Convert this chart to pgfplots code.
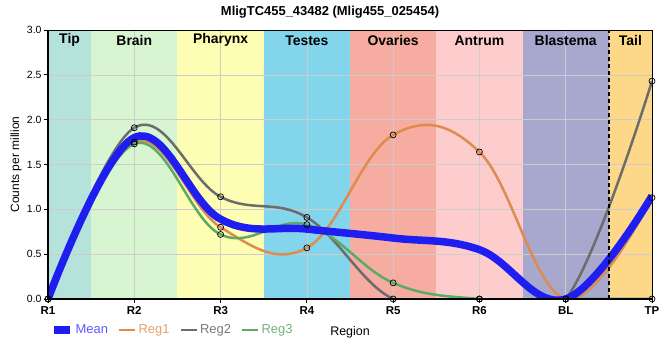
\documentclass[border=0pt]{standalone}
\usepackage{pgfplots}
\pgfplotsset{compat=1.18}
\usepackage{fontspec}
\setmainfont{Liberation Sans}
\definecolor{tipc}{RGB}{182,226,220}
\definecolor{brainc}{RGB}{214,245,208}
\definecolor{pharc}{RGB}{253,253,180}
\definecolor{testc}{RGB}{130,213,235}
\definecolor{ovac}{RGB}{246,172,160}
\definecolor{antc}{RGB}{253,204,204}
\definecolor{blasc}{RGB}{168,168,206}
\definecolor{tailc}{RGB}{253,216,136}
\definecolor{meanc}{RGB}{30,30,240}
\definecolor{regA}{RGB}{222,140,78}
\definecolor{regB}{RGB}{108,108,108}
\definecolor{regC}{RGB}{92,170,100}
\definecolor{meant}{RGB}{90,90,255}
\definecolor{regAt}{RGB}{232,160,110}
\definecolor{regBt}{RGB}{120,120,120}
\definecolor{regCt}{RGB}{110,180,120}
\begin{document}
\begin{tikzpicture}
\begin{axis}[
  at={(0,0)}, anchor=south west,
  scale only axis, width=604bp, height=269bp,
  set layers,
  xmin=0, xmax=7, ymin=0, ymax=3,
  xtick={0,1,2,3,4,5,6,7},
  xticklabels={R1,R2,R3,R4,R5,R6,BL,TP},
  xticklabel style={font=\fontsize{11.5}{13}\selectfont\bfseries, yshift=0bp},
  ytick={0,0.5,1,1.5,2,2.5,3},
  /pgf/number format/assume math mode=true,
  yticklabel style={font=\fontsize{10.5}{12}\selectfont, /pgf/number format/fixed, /pgf/number format/fixed zerofill, /pgf/number format/precision=1, xshift=1bp},
  tick align=outside, tick pos=left, major tick length=4bp,
  tick style={black, line width=0.8bp},
  grid=major, grid style={color=black!20, line width=0.6bp},
  axis line style={line width=0.8bp},
  clip mode=individual,
  every axis title shift=0pt,
  title={MligTC455\_43482 (Mlig455\_025454)},
  title style={font=\fontsize{13}{15}\selectfont\bfseries, inner sep=1bp, at={(axis description cs:0.467,1)}, anchor=base, yshift=14bp},
  ylabel={Counts per million},
  ylabel style={font=\fontsize{12}{14}\selectfont, inner sep=1bp, at={(axis description cs:-0.053,0.5)}, anchor=center},
  legend columns=-1,
  legend image code/.code={\draw[#1] (0bp,0bp) -- (16bp,0bp);},
  legend style={draw=none, fill=none, inner sep=0pt, at={(axis description cs:0.0033,-0.115)}, anchor=west,
    font=\fontsize{13}{15}\selectfont, nodes={inner xsep=2bp},
    /tikz/every even column/.append style={column sep=8bp}},
]
\addplot[fill=tipc, draw=none, on layer=axis background, forget plot] coordinates {(0,0) (0.5,0) (0.5,3) (0,3)} -- cycle;
\addplot[fill=brainc, draw=none, on layer=axis background, forget plot] coordinates {(0.5,0) (1.5,0) (1.5,3) (0.5,3)} -- cycle;
\addplot[fill=pharc, draw=none, on layer=axis background, forget plot] coordinates {(1.5,0) (2.5,0) (2.5,3) (1.5,3)} -- cycle;
\addplot[fill=testc, draw=none, on layer=axis background, forget plot] coordinates {(2.5,0) (3.5,0) (3.5,3) (2.5,3)} -- cycle;
\addplot[fill=ovac, draw=none, on layer=axis background, forget plot] coordinates {(3.5,0) (4.5,0) (4.5,3) (3.5,3)} -- cycle;
\addplot[fill=antc, draw=none, on layer=axis background, forget plot] coordinates {(4.5,0) (5.5,0) (5.5,3) (4.5,3)} -- cycle;
\addplot[fill=blasc, draw=none, on layer=axis background, forget plot] coordinates {(5.5,0) (6.5,0) (6.5,3) (5.5,3)} -- cycle;
\addplot[fill=tailc, draw=none, on layer=axis background, forget plot] coordinates {(6.5,0) (7,0) (7,3) (6.5,3)} -- cycle;

\addlegendimage{meanc, line width=7.5bp}
\addlegendentry{\textcolor{meant}{Mean}}
\addlegendimage{regA, line width=2.5bp}
\addlegendentry{\textcolor{regAt}{Reg1}}
\addlegendimage{regB, line width=2.5bp}
\addlegendentry{\textcolor{regBt}{Reg2}}
\addlegendimage{regC, line width=2.5bp}
\addlegendentry{\textcolor{regCt}{Reg3}}

% Reg1
\addplot[regA, smooth, tension=0.65, line width=2.5bp, forget plot] coordinates {(0,0) (1,1.75) (2,0.80) (3,0.57) (4,1.83) (5,1.64) (6,0) (7,1.13)};
% Reg2
\addplot[regB, smooth, tension=0.65, line width=2.5bp, forget plot] coordinates {(0,0) (1,1.91) (2,1.14) (3,0.91) (4,0) (5,0) (6,0) (7,2.43)};
% Reg3
\addplot[regC, smooth, tension=0.65, line width=2.5bp, forget plot] coordinates {(0,0) (1,1.73) (2,0.72) (3,0.83) (4,0.18) (5,0) (6,0) (7,0)};
% Mean
\addplot[meanc, smooth, tension=0.65, line width=7.5bp, forget plot] coordinates {(0,0) (1,1.80) (2,0.89) (3,0.78) (4,0.68) (5,0.55) (6,0) (7,1.15)};

% markers
\addplot[only marks, mark=o, mark size=3bp, black, line width=0.7bp, forget plot] coordinates {(0,0) (1,1.75) (2,0.80) (3,0.57) (4,1.83) (5,1.64) (6,0) (7,1.13)};
\addplot[only marks, mark=o, mark size=3bp, black, line width=0.7bp, forget plot] coordinates {(0,0) (1,1.91) (2,1.14) (3,0.91) (4,0) (5,0) (6,0) (7,2.43)};
\addplot[only marks, mark=o, mark size=3bp, black, line width=0.7bp, forget plot] coordinates {(0,0) (1,1.73) (2,0.72) (3,0.83) (4,0.18) (5,0) (6,0) (7,0)};

\draw[black, line width=1.6bp, dash pattern=on 4bp off 3bp] (axis cs:6.5,0) -- (axis cs:6.5,3);
\draw[black, line width=2.2bp] (axis cs:0,3) -- (axis cs:0,0) -- (axis cs:7,0);

\node[font=\fontsize{14}{16}\selectfont\bfseries] at (axis cs:0.25,2.885) {Tip};
\node[font=\fontsize{14}{16}\selectfont\bfseries] at (axis cs:1,2.885) {Brain};
\node[font=\fontsize{14}{16}\selectfont\bfseries] at (axis cs:2,2.885) {Pharynx};
\node[font=\fontsize{14}{16}\selectfont\bfseries] at (axis cs:3,2.885) {Testes};
\node[font=\fontsize{14}{16}\selectfont\bfseries] at (axis cs:4,2.885) {Ovaries};
\node[font=\fontsize{14}{16}\selectfont\bfseries] at (axis cs:5,2.885) {Antrum};
\node[font=\fontsize{14}{16}\selectfont\bfseries] at (axis cs:6,2.885) {Blastema};
\node[font=\fontsize{14}{16}\selectfont\bfseries] at (axis cs:6.75,2.885) {Tail};
\node[font=\fontsize{12.5}{14}\selectfont] at (axis cs:3.5,-0.375) {Region};
\end{axis}
\pgfresetboundingbox
\path (-48bp,-61bp) rectangle (612bp,299bp);
\end{tikzpicture}
\end{document}
